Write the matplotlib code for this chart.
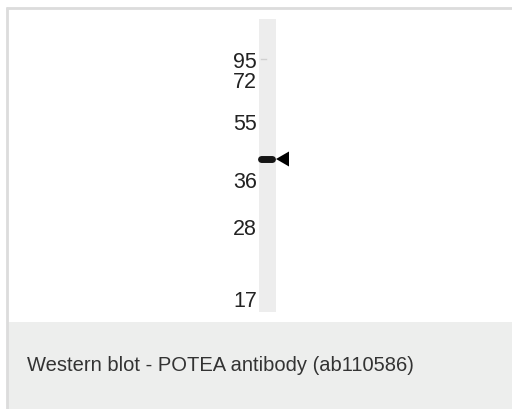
import matplotlib.pyplot as plt
from matplotlib.patches import Rectangle, Polygon

# molecular weight markers (kDa) and where they sit along the lane (px from top)
marker_kda = ['95', '72', '55', '36', '28', '17']
marker_pos = [62, 83, 124, 183, 230, 302]

# detected band
band_pos = 160
caption = 'Western blot - POTEA antibody (ab110586)'

fig = plt.figure(figsize=(5.12, 4.10), dpi=100)
ax = fig.add_axes([0, 0, 1, 1])
ax.set_xlim(0, 512)
ax.set_ylim(410, 0)
ax.axis('off')

# frame and caption panel
ax.add_patch(Rectangle((7, 323), 505, 87, facecolor='#edeeed', edgecolor='none'))
ax.plot([6.5, 6.5], [8, 410], color='#dcdcdc', lw=2, solid_capstyle='butt')
ax.plot([6, 512], [8.5, 8.5], color='#dcdcdc', lw=2, solid_capstyle='butt')

# lane
ax.add_patch(Rectangle((259, 20), 17, 293, facecolor='#ededed', edgecolor='none'))
ax.plot([261, 266], [60, 60], color='#d0d0d0', lw=1)

# band + arrow
ax.plot([261, 272], [band_pos, band_pos], color='#151515', lw=5, solid_capstyle='round')
ax.add_patch(Polygon([[276, band_pos], [289, band_pos - 7.5], [289, band_pos + 7.5]],
                     closed=True, facecolor='black', edgecolor='none'))

for lab, y in zip(marker_kda, marker_pos):
    ax.text(257, y, lab, ha='right', va='center', fontsize=15.5,
            family=['Liberation Sans', 'DejaVu Sans'], color='#222222')

ax.text(27, 366, caption, ha='left', va='center', fontsize=14.5,
        family=['Liberation Sans', 'DejaVu Sans'], color='#333333')

fig.savefig('out.png', dpi=100)
